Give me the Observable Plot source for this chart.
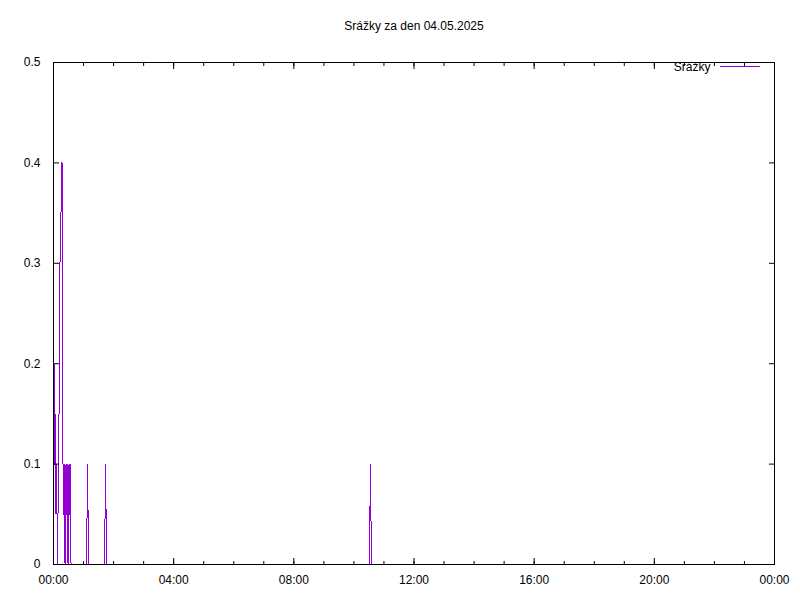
<!DOCTYPE html>
<html>
<head>
<meta charset="utf-8">
<script src="https://cdn.jsdelivr.net/npm/d3@7"></script>
<script src="https://cdn.jsdelivr.net/npm/@observablehq/plot@0.6"></script>
<style>
  body { margin: 0; background: white; }
</style>
</head>
<body>
<div id="chart"></div>
<script>
const title = "Srážky za den 04.05.2025";
const seriesName = "Srážky";
const day = "2025-05-04";

const times = [
  "00:00","00:01","00:02","00:03","00:04","00:05","00:06","00:07","00:08","00:09",
  "00:10","00:11","00:12","00:13","00:14","00:15","00:16","00:17","00:18","00:19",
  "00:20","00:21","00:22","00:23","00:24","00:25","00:26","00:27","00:28","00:29",
  "00:30","00:31","00:32","00:33","00:34","00:35","00:36",
  "01:06","01:07","01:08","01:09","01:10",
  "01:42","01:43","01:44","01:45","01:46",
  "10:31","10:32","10:33","10:34","10:35",
  "23:59"
];
const values = [
  0, 0.2, 0.1, 0.15, 0.1, 0.05, 0.1, 0.05, 0, 0.05,
  0.1, 0.15, 0.15, 0.3, 0.35, 0.35, 0.4, 0.4, 0.25, 0.1,
  0.05, 0.1, 0.05, 0, 0.05, 0.1, 0.05, 0.1, 0.05, 0,
  0.05, 0.1, 0.05, 0.1, 0.05, 0, 0,
  0, 0.05, 0.1, 0.05, 0,
  0, 0.05, 0.1, 0.05, 0,
  0, 0.05, 0.1, 0.05, 0,
  0
];
const yTicks = [0, 0.1, 0.2, 0.3, 0.4, 0.5];
const xMajorHours = [0, 4, 8, 12, 16, 20, 24];
const xMinorHours = d3.range(0, 25);

const parseT = (s) => new Date(`${day}T${s}:00Z`);
const data = times.map((t, i) => ({t: parseT(t), v: values[i]}));
const start = new Date(`${day}T00:00:00Z`);
const hour = (h) => new Date(start.getTime() + h * 3600e3);
const majorTicks = xMajorHours.map(hour);
const minorTicks = xMinorHours.map(hour);
const color = "#9400d3";
const noText = () => "";

const marginLeft = 53, marginRight = 26, marginTop = 62, marginBottom = 36;
const W = 800, H = 600;

const chart = Plot.plot({
  width: W, height: H,
  marginLeft, marginRight, marginTop, marginBottom,
  style: {fontFamily: "'Liberation Sans', Arial, sans-serif", fontSize: "12px", color: "black", background: "white"},
  x: {type: "utc", domain: [hour(0), hour(24)]},
  y: {domain: [0, 0.5]},
  marks: [
    Plot.line(data, {x: "t", y: "v", stroke: color, strokeWidth: 1, shapeRendering: "crispEdges"}),
    Plot.axisX({anchor: "bottom", ticks: majorTicks, tickFormat: d3.utcFormat("%H:%M"), tickSize: 0, tickPadding: 11, label: null}),
    Plot.axisX({anchor: "bottom", ticks: minorTicks, tickFormat: noText, tickSize: -3, label: null}),
    Plot.axisX({anchor: "bottom", ticks: majorTicks, tickFormat: noText, tickSize: -6, label: null}),
    Plot.axisX({anchor: "top", ticks: minorTicks, tickFormat: noText, tickSize: -3, label: null}),
    Plot.axisX({anchor: "top", ticks: majorTicks, tickFormat: noText, tickSize: -6, label: null}),
    Plot.axisY({anchor: "left", ticks: yTicks, tickFormat: (d) => String(d), tickSize: 0, tickPadding: 13, label: null}),
    Plot.axisY({anchor: "left", ticks: yTicks, tickFormat: noText, tickSize: -6, label: null}),
    Plot.axisY({anchor: "right", ticks: yTicks, tickFormat: noText, tickSize: -6, label: null}),
    Plot.frame({stroke: "black"}),
    Plot.text([title], {frameAnchor: "top", lineAnchor: "middle", dy: -36, fontSize: 12, fill: "black"}),
    Plot.text([seriesName], {frameAnchor: "top-right", lineAnchor: "middle", dx: -64, dy: 5, textAnchor: "end", fontSize: 12, fill: "black"})
  ]
});

// legend sample line
const svg = d3.select(chart);
const lx2 = W - marginRight - 14;
svg.append("line")
  .attr("x1", lx2 - 40).attr("x2", lx2)
  .attr("y1", marginTop + 4.5).attr("y2", marginTop + 4.5)
  .attr("stroke", color).attr("stroke-width", 1);

document.getElementById("chart").appendChild(chart);
</script>
</body>
</html>
